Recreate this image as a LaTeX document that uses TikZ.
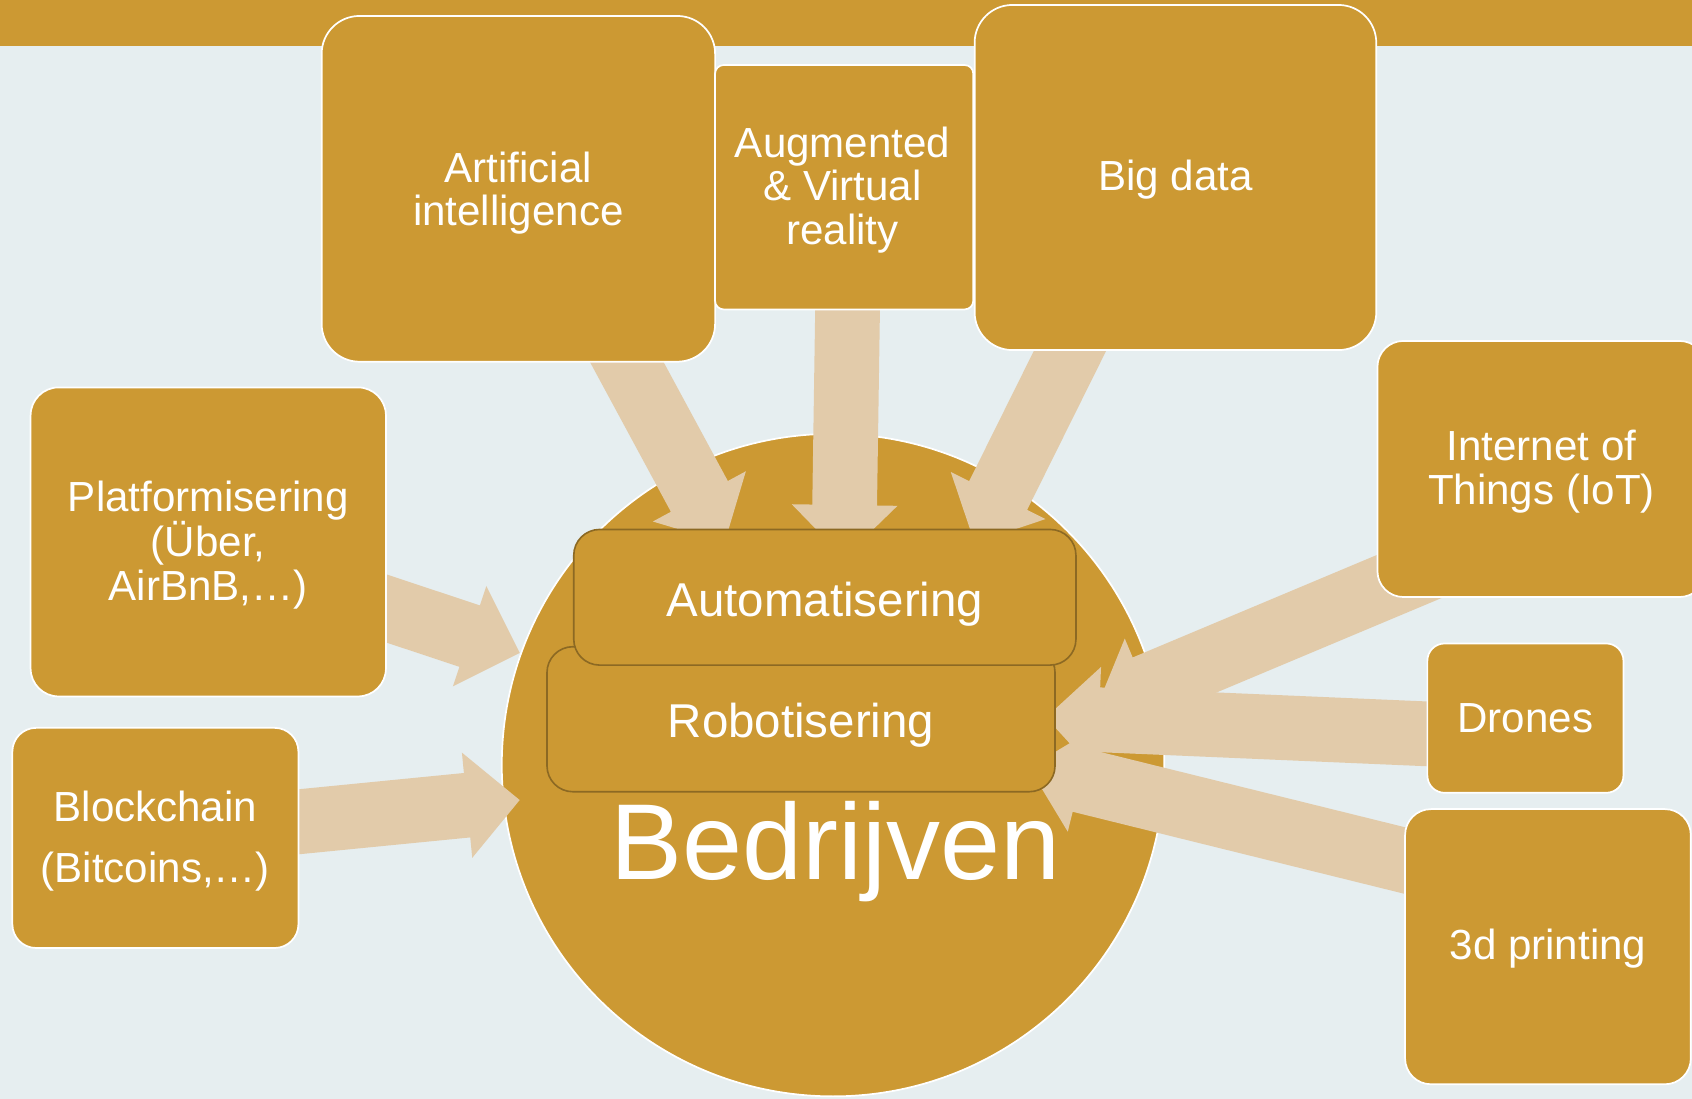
\documentclass[tikz,border=0pt]{standalone}
\usepackage{fontspec}
\setmainfont{Liberation Sans}
\usetikzlibrary{calc}
\definecolor{gold}{RGB}{204,153,51}
\definecolor{arrowfill}{RGB}{226,203,170}
\definecolor{bgcol}{RGB}{230,238,240}
\definecolor{innerline}{RGB}{140,105,35}
\newcommand{\blockarrow}[2]{%
  \coordinate (ba-h) at ($(#2)!49pt!(#1)$);
  \fill[arrowfill] ($(#1)!30pt!90:(#2)$) -- ($(ba-h)!30pt!90:(#2)$) -- ($(ba-h)!49pt!90:(#2)$) -- (#2) -- ($(ba-h)!49pt!-90:(#2)$) -- ($(ba-h)!30pt!-90:(#2)$) -- ($(#1)!30pt!-90:(#2)$) -- cycle;}
\begin{document}
\begin{tikzpicture}[x=1pt,y=-1pt,
  box/.style={draw=white, line width=1.6pt, fill=gold, inner sep=0pt},
  boxtext/.style={text=white, align=center, font=\fontsize{39}{40.5}\selectfont, inner sep=0pt},
  innerbox/.style={draw=innerline, line width=1.5pt, fill=gold, rounded corners=24pt, inner sep=0pt},
  innertext/.style={text=white, font=\fontsize{44}{50}\selectfont, inner sep=0pt}]
\useasboundingbox (0,0) rectangle (1568,1018);
\clip (0,0) rectangle (1568,1018);
\fill[bgcol] (0,0) rectangle (1568,1018);
\fill[gold] (0,0) rectangle (1568,42.3);
% central circle
\node[circle, draw=white, line width=1.6pt, fill=gold, minimum size=614pt, inner sep=0pt] (bedr) at (772,709) {};
% arrow ends
\coordinate (aiT) at (553,284);     \coordinate (aiH) at (671.4,503.1);
\coordinate (arT) at (786,250);     \coordinate (arH) at (782,517);
\coordinate (bdT) at (1014,280);    \coordinate (bdH) at (903.2,503.1);
\coordinate (plT) at (291.9,541.8); \coordinate (plH) at (481.7,605);
\coordinate (bcT) at (252.8,763.9); \coordinate (bcH) at (481.6,741.4);
\coordinate (iotT) at (1365.6,509.2); \coordinate (iotH) at (1016.1,655.9);
\coordinate (drT) at (1400,683.4);  \coordinate (drH) at (969.3,664.9);
\coordinate (pdT) at (1380,816.8);  \coordinate (pdH) at (953.7,711.4);
\blockarrow{aiT}{aiH}
\blockarrow{arT}{arH}
\blockarrow{bdT}{bdH}
\blockarrow{plT}{plH}
\blockarrow{bcT}{bcH}
\blockarrow{iotT}{iotH}
\blockarrow{drT}{drH}
\blockarrow{pdT}{pdH}
% outer boxes
\node[box, minimum width=364.6pt, minimum height=320.4pt, rounded corners=35pt] (ai) at (480.4,175) {};
\node[box, minimum width=239.3pt, minimum height=226.5pt, rounded corners=8pt] (ar) at (782.3,173.5) {};
\node[box, minimum width=372.2pt, minimum height=319.8pt, rounded corners=35pt] (bd) at (1089.3,164.5) {};
\node[box, minimum width=329.3pt, minimum height=286.4pt, rounded corners=26pt] (pl) at (193,502.2) {};
\node[box, minimum width=265.1pt, minimum height=204pt, rounded corners=22pt] (bc) at (144,776.5) {};
\node[box, minimum width=304pt, minimum height=237.3pt, rounded corners=24pt] (iot) at (1428.5,434.6) {};
\node[box, minimum width=181.7pt, minimum height=138.4pt, rounded corners=16pt] (dr) at (1413.6,665.5) {};
\node[box, minimum width=264.8pt, minimum height=255pt, rounded corners=24pt] (pd) at (1434.5,877.3) {};
\node[boxtext] (ai-t) at ($(ai.center)+(0,4)$) {Artificial\\intelligence};
\node[boxtext] (ar-t) at ($(ar.center)+(-1.5,2.5)$) {Augmented\\\& Virtual\\reality};
\node[boxtext] (bd-t) at ($(bd.center)+(0,2)$) {Big data};
\node[boxtext] (pl-t) at ($(pl.center)+(0,3)$) {Platformisering\\(Über,\\AirBnB,…)};
\node[boxtext, font=\fontsize{39}{57}\selectfont] (bc-t) at ($(bc.center)+(0,3)$) {Blockchain\\(Bitcoins,…)};
\node[boxtext] (iot-t) at ($(iot.center)+(0,2.5)$) {Internet of\\Things (IoT)};
\node[boxtext] (dr-t) at (dr.center) {Drones};
\node[boxtext] (pd-t) at ($(pd.center)+(0,2)$) {3d printing};
% inner boxes
\node[innerbox, minimum width=470.8pt, minimum height=134.4pt] (robo) at (742.3,666.5) {};
\node[innertext] (robo-t) at ($(robo.center)+(0,6)$) {Robotisering};
\node[innerbox, minimum width=465.4pt, minimum height=125.7pt] (auto) at (764.4,553.5) {};
\node[innertext] (auto-t) at ($(auto.center)+(0,6)$) {Automatisering};
\node[anchor=base, text=white, font=\fontsize{100}{110}\selectfont, inner sep=0pt] (bedrtxt) at (774,814.6) {Bedrijven};
\end{tikzpicture}
\end{document}
